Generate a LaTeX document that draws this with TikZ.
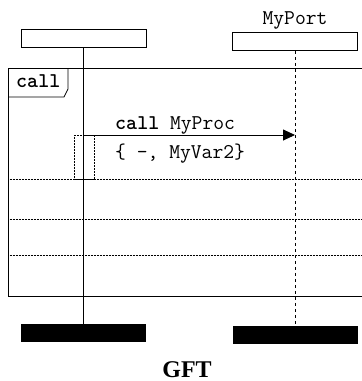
\documentclass[tikz,border=0pt]{standalone}
\usepackage{fontspec}
\newfontfamily\gftfont{Liberation Serif}
\usetikzlibrary{positioning,arrows.meta}

\begin{document}
\begin{tikzpicture}[x=1pt,y=-1pt,>={Triangle[length=12pt,width=11pt]},
  mono/.style={font=\fontsize{21}{23}\ttfamily,inner sep=0pt},
  head/.style={draw,line width=0.8pt,minimum width=125pt,minimum height=18pt,inner sep=0pt},
  foot/.style={fill=black,minimum width=125pt,minimum height=18pt,inner sep=0pt},
  sep/.style={densely dotted,line width=0.5pt}]
\useasboundingbox (0,0) rectangle (362,381);
% instances
\node[head] (inst) at (83.5,38.5) {};
\node[head] (port) at (295,41.5) {};
\node[mono,anchor=base] (portname) at (295,24) {MyPort};
\node[foot] (instend) at (83.5,333) {};
\node[foot] (portend) at (295,334.5) {};
\draw[line width=0.8pt] (inst.south) -- (instend.north);
\draw[dashed,line width=0.8pt] (port.south) -- (portend.north);
% frame and tab
\draw[line width=0.9pt] (362,68) -- (8,68) -- (8,296) -- (362,296);
\draw[line width=0.8pt] (68,68) -- (68,89) -- (64,97) -- (8,97);
\node[mono,anchor=base west] (kw) at (16,87) {\bfseries call};
% call
\coordinate (src) at (83,135);
\coordinate (dst) at (295,135);
\draw[->,line width=0.9pt] (src) -- (dst);
\node[mono,anchor=base west] (sig) at (115,129) {\textbf{call} MyProc};
\node[mono,anchor=base west] (par) at (115,158) {\{ -, MyVar2\}};
\draw[sep] (74,135) rectangle (94,179);
% separators
\foreach \y in {179,219,255}
  \draw[sep] (8,\y) -- (362,\y);
\node[font=\fontsize{24}{26}\gftfont\bfseries,anchor=base] (cap) at (187,377) {GFT};
\end{tikzpicture}
\end{document}
